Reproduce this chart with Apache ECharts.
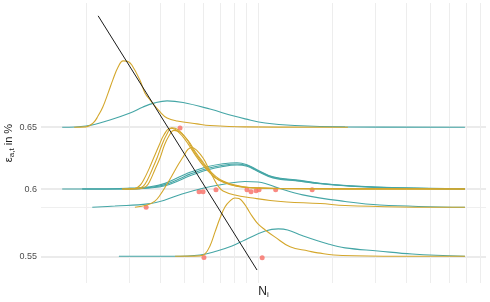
<!DOCTYPE html>
<html><head><meta charset="utf-8">
<script src="https://cdn.jsdelivr.net/npm/echarts@6/dist/echarts.min.js"></script>
<style>html,body{margin:0;padding:0;background:#fff}#c{width:490px;height:302px}</style>
</head><body><div id="c"></div>
<script>
// ---- axis settings (values in data units) ----
const xRange = [13120, 845000];
const yRange = [0.5313, 0.7634];
const xGridValues = [2e4,3e4,4e4,5e4,6e4,7e4,8e4,9e4,1e5,2e5,3e5,4e5,5e5,6e5,7e5,8e5];
const yTickValues = [0.55, 0.6, 0.65];
const yExtraGrid = [0.586];

// ---- ridge baselines (epsilon in %) ----
const baseA = 0.65, baseB = 0.6, baseC = 0.586, baseD = 0.55;

// ---- ridge curves: [N_i, ridge height (density, 0.01 log units)] ----
const tealA = [[1.6e4,0],[2.0e4,0.07],[2.5e4,0.41],[3.02e4,0.80],[3.41e4,1.14],[3.81e4,1.37],[4.27e4,1.48],[4.96e4,1.39],[6.38e4,1.02],[7.91e4,0.64],[8.86e4,0.47],[1.07e5,0.24],[1.41e5,0.10],[2.26e5,0.02],[6.94e5,0]];
const yellowA = [[1.79e4,0],[2.0e4,0.02],[2.14e4,0.24],[2.24e4,0.64],[2.34e4,1.14],[2.46e4,1.93],[2.57e4,2.66],[2.70e4,3.39],[2.83e4,3.73],[2.96e4,3.70],[3.07e4,3.50],[3.31e4,2.66],[3.47e4,1.93],[3.64e4,1.54],[4.0e4,0.86],[4.27e4,0.52],[4.69e4,0.35],[5.65e4,0.19],[6.38e4,0.10],[8.86e4,0.02],[2.32e5,0]];

const tealB1 = [[1.6e4,0],[2.28e4,0],[3.02e4,0.05],[3.64e4,0.13],[4.19e4,0.32],[4.91e4,0.75],[5.29e4,0.94],[6.21e4,1.25],[7.21e4,1.42],[8.22e4,1.48],[9.02e4,1.37],[9.91e4,1.09],[1.15e5,0.69],[1.48e5,0.49],[1.79e5,0.33],[2.37e5,0.19],[3.78e5,0.07],[6.94e5,0.02]];
const tealB2 = [[1.93e4,0],[3.02e4,0],[3.64e4,0.09],[4.19e4,0.25],[4.91e4,0.64],[5.29e4,0.84],[6.21e4,1.16],[7.21e4,1.34],[8.22e4,1.41],[9.02e4,1.32],[9.91e4,1.05],[1.15e5,0.66],[1.48e5,0.46],[1.79e5,0.31],[2.37e5,0.17],[3.78e5,0.06],[6.94e5,0]];
const tealB3 = [[1.93e4,0],[3.02e4,0],[3.64e4,0.06],[4.19e4,0.19],[4.91e4,0.55],[5.29e4,0.75],[6.21e4,1.07],[7.21e4,1.27],[8.22e4,1.35],[9.02e4,1.28],[9.91e4,1.02],[1.15e5,0.63],[1.48e5,0.44],[1.79e5,0.30],[2.37e5,0.16],[3.78e5,0.05],[6.94e5,0]];
const yellowB1 = [[2.80e4,0],[3.16e4,0.03],[3.31e4,0.2],[3.44e4,0.55],[3.61e4,1.15],[3.78e4,1.8],[3.96e4,2.45],[4.15e4,3.05],[4.39e4,3.42],[4.60e4,3.36],[4.91e4,3.0],[5.25e4,2.45],[5.60e4,1.85],[6.0e4,1.3],[6.44e4,0.85],[6.94e4,0.5],[7.70e4,0.25],[8.85e4,0.1],[1.23e5,0.03],[6.94e5,0]];
const yellowB2 = [[2.80e4,0],[3.22e4,0.02],[3.41e4,0.15],[3.54e4,0.47],[3.71e4,1.09],[3.89e4,1.76],[4.07e4,2.49],[4.25e4,3.05],[4.47e4,3.45],[4.73e4,3.34],[5.12e4,2.83],[5.44e4,2.21],[5.81e4,1.65],[6.21e4,1.14],[6.56e4,0.75],[7.01e4,0.49],[7.70e4,0.27],[8.85e4,0.1],[1.23e5,0.03],[6.94e5,0]];
const yellowB3 = [[2.88e4,0],[3.31e4,0.02],[3.51e4,0.15],[3.64e4,0.47],[3.81e4,1.09],[4.0e4,1.76],[4.17e4,2.49],[4.35e4,3.0],[4.55e4,3.30],[4.82e4,3.20],[5.22e4,2.7],[5.56e4,2.1],[5.95e4,1.55],[6.35e4,1.05],[6.75e4,0.7],[7.21e4,0.45],[7.91e4,0.25],[9.28e4,0.08],[1.48e5,0.02],[6.94e5,0]];

const tealC = [[2.12e4,0],[2.62e4,0.07],[3.57e4,0.19],[4.19e4,0.41],[4.91e4,0.75],[5.92e4,1.06],[7.34e4,1.31],[8.85e4,1.45],[1.0e5,1.42],[1.07e5,1.34],[1.21e5,1.09],[1.52e5,0.70],[2.26e5,0.33],[3.13e5,0.13],[6.94e5,0]];
const yellowC = [[3.16e4,0],[3.54e4,0.13],[3.81e4,0.35],[4.0e4,0.69],[4.27e4,1.31],[4.51e4,1.87],[4.73e4,2.38],[4.96e4,2.83],[5.19e4,3.25],[5.39e4,3.36],[5.65e4,3.19],[5.98e4,2.77],[6.26e4,2.27],[6.56e4,1.70],[6.88e4,1.20],[7.21e4,0.92],[8.06e4,0.69],[9.54e4,0.52],[1.12e5,0.38],[1.31e5,0.30],[1.79e5,0.21],[2.26e5,0.10],[3.78e5,0.02],[6.94e5,0]];

const tealD = [[2.72e4,0],[4.51e4,0],[5.81e4,0.07],[6.81e4,0.30],[7.84e4,0.58],[8.85e4,0.92],[1.07e5,1.42],[1.21e5,1.54],[1.32e5,1.48],[1.51e5,1.17],[1.93e5,0.69],[2.26e5,0.47],[3.07e5,0.30],[4.23e5,0.13],[6.94e5,0]];
const yellowD = [[4.60e4,0],[5.81e4,0.02],[6.09e4,0.13],[6.38e4,0.58],[6.69e4,1.37],[7.01e4,2.15],[7.34e4,2.77],[7.70e4,3.11],[8.06e4,3.28],[8.37e4,3.25],[8.69e4,3.05],[9.02e4,2.72],[9.45e4,2.27],[1.0e5,1.82],[1.07e5,1.48],[1.17e5,1.09],[1.35e5,0.53],[1.60e5,0.30],[1.75e5,0.19],[2.20e5,0.04],[3.78e5,0],[6.94e5,0]];

// ---- observed points [N_i, epsilon] ----
const redPoints = [[4.82e4,0.6494],[5.76e4,0.5979],[5.98e4,0.5979],[6.75e4,0.5995],[9.02e4,0.5995],[9.37e4,0.5979],[9.82e4,0.5987],[1.01e5,0.5995],[1.18e5,0.5995],[1.66e5,0.5995],[3.51e4,0.586],[6.03e4,0.5491],[1.04e5,0.5489]];
// ---- fitted line [N_i, epsilon] ----
const fitLine = [[2.24e4,0.7508],[9.91e4,0.5403]];

const TEAL = '#45a6a6', GOLD = '#d4a72c';
const L = Math.log10;
function ridge(data, base, color) {
  return {
    type: 'line', smooth: 0.4, showSymbol: false, silent: true,
    lineStyle: { color: color, width: 1.1 },
    data: data.map(d => [L(d[0]), L(base) + d[1] / 100])
  };
}
const series = [
  ridge(tealA, baseA, TEAL), ridge(yellowA, baseA, GOLD),
  ridge(tealB1, baseB, TEAL), ridge(tealB2, baseB, TEAL), ridge(tealB3, baseB, TEAL),
  ridge(tealC, baseC, TEAL), ridge(tealD, baseD, TEAL),
  ridge(yellowB1, baseB, GOLD), ridge(yellowB2, baseB, GOLD), ridge(yellowB3, baseB, GOLD),
  ridge(yellowC, baseC, GOLD), ridge(yellowD, baseD, GOLD),
  { type: 'line', showSymbol: false, silent: true, lineStyle: { color: '#1a1a1a', width: 1 },
    data: fitLine.map(d => [L(d[0]), L(d[1])]) },
  { type: 'scatter', symbolSize: 5, silent: true, itemStyle: { color: '#F8766D', opacity: 0.85 },
    data: redPoints.map(d => [L(d[0]), L(d[1])]) }
];

const FONT = 'Liberation Sans, Arial, sans-serif';
const chart = echarts.init(document.getElementById('c'), null, { renderer: 'canvas' });
chart.setOption({
  animation: false,
  backgroundColor: '#fff',
  grid: { left: 41, right: 4, top: 3, bottom: 19, containLabel: false, outerBoundsMode: 'none' },
  xAxis: {
    type: 'value', min: L(xRange[0]), max: L(xRange[1]),
    axisLine: { show: false }, axisLabel: { show: false },
    axisTick: { show: false, customValues: xGridValues.map(L) },
    splitLine: { show: true, lineStyle: { color: '#ededed', width: 1 } },
    name: '{a|N}{s|i}', nameLocation: 'middle', nameGap: 2, nameMoveOverlap: false,
    nameTextStyle: { rich: {
      a: { fontSize: 12, color: '#1a1a1a', fontFamily: FONT, lineHeight: 14 },
      s: { fontSize: 8, color: '#1a1a1a', fontFamily: FONT, lineHeight: 8, verticalAlign: 'bottom' } } }
  },
  yAxis: [{
    type: 'value', min: L(yRange[0]), max: L(yRange[1]),
    axisLine: { show: false },
    axisTick: { show: false, customValues: yTickValues.map(L) },
    axisLabel: { show: true, customValues: yTickValues.map(L), margin: 4, fontSize: 9, color: '#4d4d4d', fontFamily: FONT,
      formatter: v => String(+Math.pow(10, v).toFixed(2)) },
    splitLine: { show: true, lineStyle: { color: '#ebebeb', width: 2 } },
    name: '{a|ε}{s|a,t}{a| in %}', nameLocation: 'middle', nameGap: 25, nameMoveOverlap: false,
    nameTextStyle: { rich: {
      a: { fontSize: 11, color: '#1a1a1a', fontFamily: FONT, lineHeight: 14 },
      s: { fontSize: 8, color: '#1a1a1a', fontFamily: FONT, lineHeight: 8, verticalAlign: 'bottom' } } }
  }, {
    type: 'value', min: L(yRange[0]), max: L(yRange[1]), position: 'left',
    axisLine: { show: false }, axisLabel: { show: false },
    axisTick: { show: false, customValues: yExtraGrid.map(L) },
    splitLine: { show: true, lineStyle: { color: '#efefef', width: 1 } }
  }],
  series: series
});
</script></body></html>
